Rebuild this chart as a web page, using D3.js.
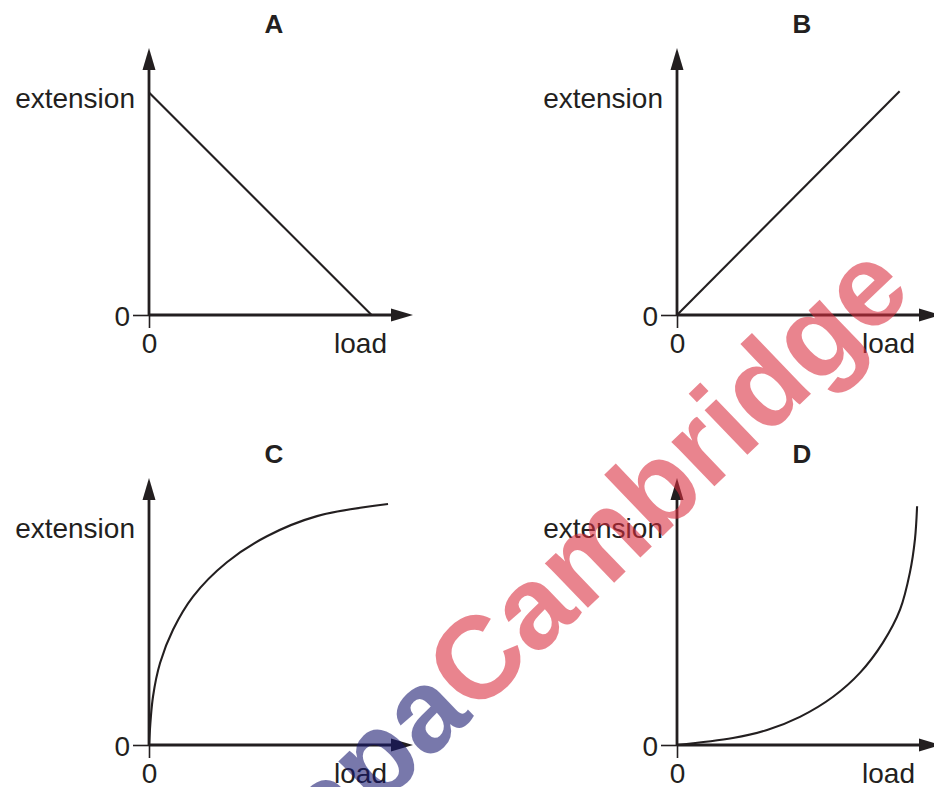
<!DOCTYPE html>
<html>
<head>
<meta charset="utf-8">
<script src="https://cdn.jsdelivr.net/npm/d3@7"></script>
<style>
  html, body { margin: 0; padding: 0; background: #fff; }
  svg text { font-family: "Liberation Sans", Arial, sans-serif; fill: #231f20; }
</style>
</head>
<body>
<script>
// panel letters and axis labels
const panelNames = ['A', 'B', 'C', 'D'];
const yLabel = 'extension';
const xLabel = 'load';
const tickLabels = ['0'];

// series (load, extension), axes run 0..10 to the arrow tips
const loadA = [0, 8.4];
const extA = [8.3, 0];

const loadB = [0, 8.4];
const extB = [0, 8.35];

const loadC = [0, 0.15, 0.42, 0.91, 1.66, 2.94, 4.45, 6.34, 9.02];
const extC = [0, 1.8, 3.07, 4.31, 5.54, 6.82, 7.79, 8.54, 8.99];

const loadD = [0, 2.11, 3.40, 4.64, 5.89, 6.91, 7.77, 8.42, 8.79, 8.98, 9.06];
const extD = [0, 0.26, 0.56, 1.05, 1.80, 2.70, 3.82, 5.06, 6.44, 7.68, 8.91];

const W = 934, H = 787;
const ink = '#231f20';

const svg = d3.select('body').append('svg')
    .attr('width', W)
    .attr('height', H);

// arrowhead, base sits on the end of the axis line
svg.append('defs').append('marker')
    .attr('id', 'arrow')
    .attr('viewBox', '0 -7 23 14')
    .attr('refX', 1)
    .attr('refY', 0)
    .attr('markerUnits', 'userSpaceOnUse')
    .attr('markerWidth', 23)
    .attr('markerHeight', 14)
    .attr('orient', 'auto')
    .append('path')
    .attr('d', 'M0,-6.5 L22,0 L0,6.5 Z')
    .attr('fill', ink);

const panels = [
    { name: panelNames[0], load: loadA, ext: extA, ox: 149, oy: 315 },
    { name: panelNames[1], load: loadB, ext: extB, ox: 677, oy: 315 },
    { name: panelNames[2], load: loadC, ext: extC, ox: 149, oy: 745 },
    { name: panelNames[3], load: loadD, ext: extD, ox: 677, oy: 745 }
];

panels.forEach(p => {
    const g = svg.append('g');

    const x = d3.scaleLinear().domain([0, 10]).range([p.ox, p.ox + 265]);
    const y = d3.scaleLinear().domain([0, 10]).range([p.oy, p.oy - 268]);

    // small "0" ticks with their stubs
    const xAxis = g.append('g')
        .attr('transform', `translate(0,${p.oy})`)
        .call(d3.axisBottom(x).tickValues([0]).tickSize(13).tickPadding(5)
            .tickFormat(() => tickLabels[0]));
    const yAxis = g.append('g')
        .attr('transform', `translate(${p.ox},0)`)
        .call(d3.axisLeft(y).tickValues([0]).tickSize(16).tickPadding(3)
            .tickFormat(() => tickLabels[0]));
    [xAxis, yAxis].forEach(a => {
        a.select('.domain').remove();
        a.selectAll('line').attr('stroke', ink).attr('stroke-width', 1.6);
        a.selectAll('text').attr('font-size', 28).attr('fill', ink);
    });
    xAxis.selectAll('text').attr('dy', '0.71em');
    yAxis.selectAll('text').attr('dy', '0.36em');

    // main axis lines with arrows
    g.append('line')
        .attr('x1', x(0)).attr('y1', y(0))
        .attr('x2', x(10) - 22).attr('y2', y(0))
        .attr('stroke', ink).attr('stroke-width', 2.8)
        .attr('marker-end', 'url(#arrow)');
    g.append('line')
        .attr('x1', x(0)).attr('y1', y(0) + 1)
        .attr('x2', x(0)).attr('y2', y(10) + 22)
        .attr('stroke', ink).attr('stroke-width', 2.8)
        .attr('marker-end', 'url(#arrow)');

    // the graph line
    const pts = p.load.map((v, i) => [v, p.ext[i]]);
    g.append('path')
        .datum(pts)
        .attr('d', d3.line()
            .x(d => x(d[0]))
            .y(d => y(d[1]))
            .curve(d3.curveCatmullRom.alpha(0.5)))
        .attr('fill', 'none')
        .attr('stroke', ink)
        .attr('stroke-width', 2.1);

    // labels
    g.append('text')
        .attr('x', x(0) - 14)
        .attr('y', y(0) - 207)
        .attr('text-anchor', 'end')
        .attr('font-size', 28)
        .text(yLabel);
    g.append('text')
        .attr('x', x(0) + 238)
        .attr('y', y(0) + 38)
        .attr('text-anchor', 'end')
        .attr('font-size', 28)
        .text(xLabel);
    g.append('text')
        .attr('x', x(0) + 125)
        .attr('y', y(0) - 282)
        .attr('text-anchor', 'middle')
        .attr('font-size', 26)
        .attr('font-weight', 'bold')
        .text(p.name);
});

// watermark laid over the drawing
const wm = svg.append('g')
    .attr('transform', 'translate(474,717) rotate(-43.8)')
    .attr('font-size', 117)
    .attr('font-weight', 'bold');
wm.append('text')
    .attr('text-anchor', 'end')
    .style('fill', '#16166e')
    .attr('fill-opacity', 0.58)
    .text('Papa');
wm.append('text')
    .attr('text-anchor', 'start')
    .style('fill', '#d92b3c')
    .attr('fill-opacity', 0.58)
    .text('Cambridge');
</script>
</body>
</html>
